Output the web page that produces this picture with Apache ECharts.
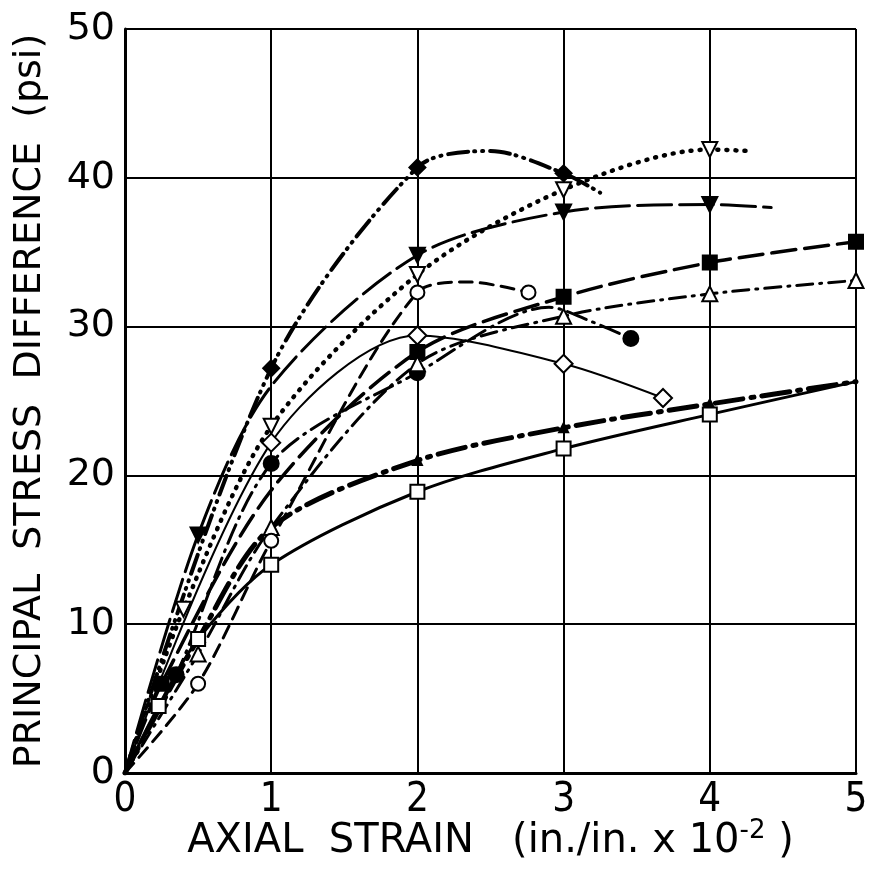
<!DOCTYPE html>
<html><head><meta charset="utf-8">
<script src="https://cdn.jsdelivr.net/npm/echarts@6/dist/echarts.min.js"></script>
<style>html,body{margin:0;padding:0;background:#fff}#c{width:873px;height:875px}</style>
</head><body><div id="c"></div>
<script>
// x tick labels and y tick labels
const xTicks = [0, 1, 2, 3, 4, 5];
const yTicks = [0, 10, 20, 30, 40, 50];

// series values [axial strain (x10^-2), stress difference (psi)]
const filledDiamond = [[0,0],[1,27.2],[2,40.7],[2.5,41.8],[3,40.3],[3.25,39]];
const filledDiamondMarks = [1,2,3];
const openInvTri = [[0,0],[0.4,11],[1,23.3],[2,33.5],[3,39.2],[4,41.9],[4.27,41.8]];
const openInvTriMarks = [0.4,1,2,3,4];
const filledInvTri = [[0,0],[0.5,16],[1,26],[2,34.8],[3,37.7],[4,38.2],[4.42,38]];
const filledInvTriMarks = [0.5,2,3,4];
const filledSquare = [[0,0],[0.25,6],[1,19],[2,28.3],[3,32],[4,34.3],[5,35.7]];
const filledSquareMarks = [0.25,2,3,4,5];
const openTri = [[0,0],[0.5,8],[1,16.5],[2,27.5],[3,30.7],[4,32.2],[5,33.1]];
const openTriMarks = [0.5,1,2,3,4,5];
const openCircle = [[0,0],[0.5,6],[1,15.6],[2,32.3],[2.35,33],[2.76,32.3]];
const openCircleMarks = [0.5,1,2,2.76];
const filledCircle = [[0,0],[0.35,6.6],[1,20.8],[2,26.9],[2.9,31.3],[3.2,30.3],[3.46,29.2]];
const filledCircleMarks = [0.35,1,2,3.46];
const openDiamond = [[0,0],[1,22.2],[2,29.4],[3,27.5],[3.68,25.2]];
const openDiamondMarks = [1,2,3,3.68];
const filledTri = [[0,0],[0.5,9],[1,16.5],[2,21],[3,23.2],[4,24.8],[5,26.3]];
const filledTriMarks = [2,3,4];
const openSquare = [[0,0],[0.23,4.5],[0.5,9],[1,14],[2,18.9],[3,21.8],[4,24.1],[5,26.3]];
const openSquareMarks = [0.23,0.5,1,2,3,4];

const INV_TRI = 'path://M0,0 L20,0 L10,18 Z';
const FONT = '"DejaVu Sans",sans-serif';
const FONT_C = '"DejaVu Sans Condensed","DejaVu Sans",sans-serif';

function mk(pts, marks, symbol, filled, lineType, width, symSize) {
  return {
    type: 'line',
    smooth: 0.3,
    symbol: symbol,
    symbolSize: symSize || 14,
    showAllSymbol: true,
    z: filled ? 3 : 4,
    lineStyle: { color: '#000', width: width, type: lineType, cap: 'round' },
    itemStyle: { color: filled ? '#000' : '#fff', borderColor: '#000', borderWidth: 2 },
    data: pts.map(p => marks.indexOf(p[0]) >= 0 ? { value: p } : { value: p, symbol: 'none' }),
    animation: false
  };
}

const chart = echarts.init(document.getElementById('c'));
chart.setOption({
  backgroundColor: '#fff',
  animation: false,
  grid: { left: 125, right: 17, top: 29, bottom: 102 },
  xAxis: {
    type: 'value', min: xTicks[0], max: xTicks[xTicks.length-1], interval: 1,
    axisLine: { lineStyle: { color: '#000', width: 3 } },
    axisTick: { show: false },
    splitLine: { show: true, lineStyle: { color: '#000', width: 2 } },
    axisLabel: { color: '#000', fontSize: 40, fontFamily: FONT_C, margin: 8 },
    name: 'AXIAL  STRAIN   (in./in. x 10{sup|-2} )',
    nameLocation: 'middle', nameGap: 45, nameMoveOverlap: false,
    nameTextStyle: { color: '#000', fontSize: 40, fontFamily: FONT, verticalAlign: 'top',
      rich: { sup: { fontSize: 26, fontFamily: FONT, color: '#000', padding: [0,0,22,0] } } }
  },
  yAxis: {
    type: 'value', min: yTicks[0], max: yTicks[yTicks.length-1], interval: 10,
    axisLine: { show: true, lineStyle: { color: '#000', width: 3 } },
    axisTick: { show: false },
    splitLine: { show: true, lineStyle: { color: '#000', width: 2 } },
    axisLabel: { color: '#000', fontSize: 38, fontFamily: FONT, margin: 10 },
    name: 'PRINCIPAL  STRESS  DIFFERENCE  (psi)',
    nameLocation: 'middle', nameGap: 76, nameMoveOverlap: false,
    nameTextStyle: { color: '#000', fontSize: 38, fontFamily: FONT }
  },
  series: [
    mk(filledDiamond, filledDiamondMarks, 'diamond', true, [20,6,1,7,1,7], 4, 16),
    mk(openInvTri, openInvTriMarks, INV_TRI, false, [1,8], 4.5, 15),
    mk(filledInvTri, filledInvTriMarks, INV_TRI, true, [34,8], 3, 15),
    mk(filledSquare, filledSquareMarks, 'rect', true, [24,9], 3.5, 14),
    mk(openTri, openTriMarks, 'triangle', false, [16,7,2,7], 3, 15),
    mk(openCircle, openCircleMarks, 'circle', false, [13,8], 3, 14),
    mk(filledCircle, filledCircleMarks, 'circle', true, [20,7,2,7], 3, 15),
    mk(openDiamond, openDiamondMarks, 'diamond', false, 'solid', 2, 18),
    mk(filledTri, filledTriMarks, 'triangle', true, [28,8,3,8], 5, 9),
    mk(openSquare, openSquareMarks, 'rect', false, 'solid', 3, 14)
  ]
});
</script></body></html>
